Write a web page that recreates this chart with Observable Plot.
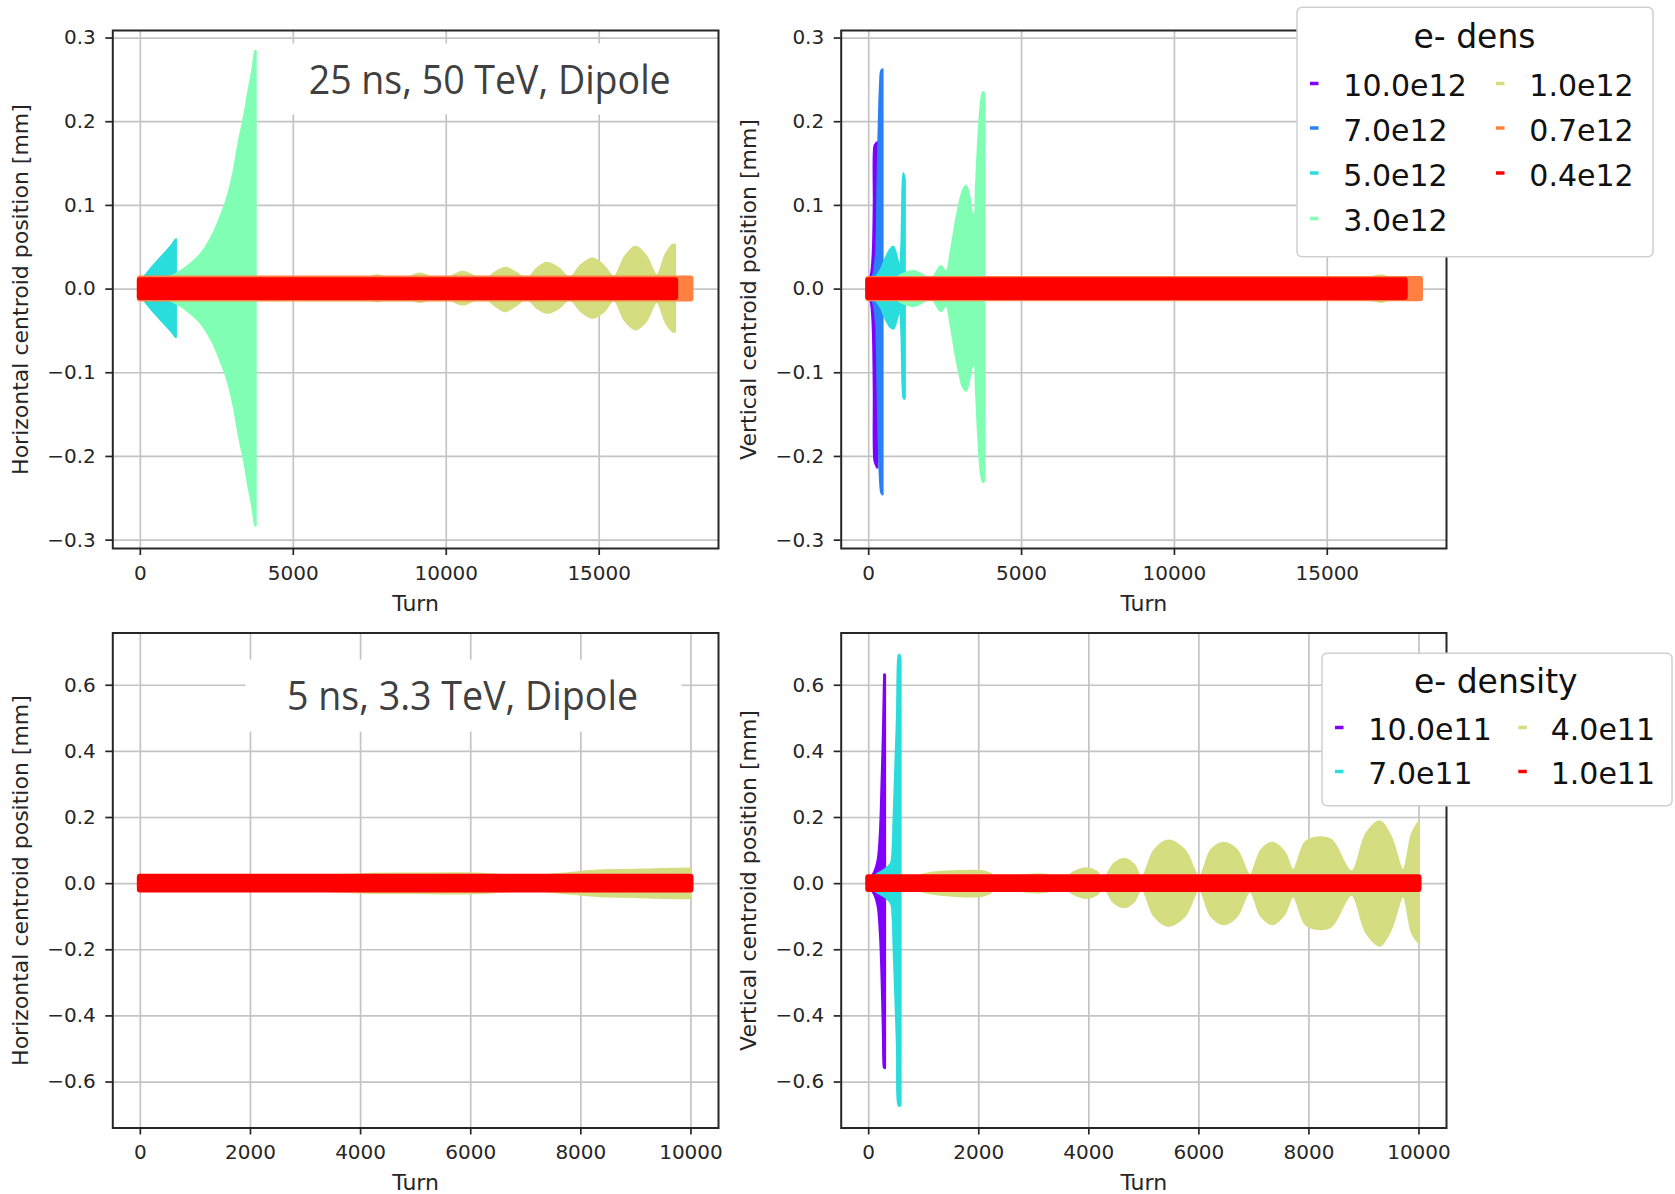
<!DOCTYPE html>
<html><head><meta charset="utf-8">
<script src="https://cdn.jsdelivr.net/npm/d3@7"></script>
<script src="https://cdn.jsdelivr.net/npm/@observablehq/plot@0.6"></script>
<style>
html,body{margin:0;padding:0;background:#fff;}
#page{position:relative;width:1675px;height:1194px;overflow:hidden;background:#fff;font-family:"DejaVu Sans";}
.panel{position:absolute;}
.panel svg{background:transparent !important;display:block;overflow:visible;}
.panel svg g[aria-label*="axis"] path,.panel svg g[aria-label*="axis"] line{stroke-width:1.7px;}
#overlay{position:absolute;left:0;top:0;pointer-events:none;}
</style></head>
<body><div id="page"></div>
<script>
// ---------- legend / categories ----------
const namesTop = ["10.0e12","7.0e12","5.0e12","3.0e12","1.0e12","0.7e12","0.4e12"];
const colorsTop = ["#8000ff","#2a80f6","#2adddd","#80ffb4","#d4dd80","#ff8042","#ff0000"];
const namesBot = ["10.0e11","7.0e11","4.0e11","1.0e11"];
const colorsBot = ["#8000ff","#2adddd","#d4dd80","#ff0000"];
const xTicksTop = [0,5000,10000,15000];
const xTicksBot = [0,2000,4000,6000,8000,10000];
const yTicksTop = [-0.3,-0.2,-0.1,0,0.1,0.2,0.3];
const yTicksBot = [-0.6,-0.4,-0.2,0,0.2,0.4,0.6];
const titleTop = "25 ns, 50 TeV, Dipole";
const titleBot = "5 ns, 3.3 TeV, Dipole";

// ---------- Panel A: horizontal, 25 ns (envelopes: turn, upper, lower) ----------
const A_turn_10 = [0,100,200,280];
const A_hi_10 = [0.004,0.006,0.007,0.007];
const A_lo_10 = [-0.004,-0.006,-0.007,-0.007];
const A_turn_7 = [0,200,400,440];
const A_hi_7 = [0.004,0.006,0.008,0.008];
const A_lo_7 = [-0.004,-0.006,-0.008,-0.008];
const A_turn_5 = [0,200,400,600,800,1000,1150,1180];
const A_hi_5 = [0.008,0.017,0.026,0.034,0.042,0.05,0.058,0.059];
const A_lo_5 = [-0.008,-0.017,-0.026,-0.034,-0.042,-0.05,-0.057,-0.058];
const A_turn_3 = [0,400,800,1200,1600,2000,2400,2650,2850,3050,3230,3400,3550,3680,3770,3790];
const A_hi_3 = [0.005,0.008,0.012,0.018,0.028,0.042,0.066,0.088,0.108,0.138,0.175,0.205,0.237,0.262,0.284,0.284];
const A_lo_3 = [-0.005,-0.008,-0.012,-0.018,-0.028,-0.042,-0.066,-0.088,-0.108,-0.138,-0.175,-0.205,-0.237,-0.262,-0.283,-0.283];
const A_turn_1 = [0,2000,4300,4950,5650,6350,7050,7750,8450,9150,9850,10550,11250,11600,11950,12300,12650,12980,13300,13670,14050,14420,14800,15150,15500,15850,16200,16550,16900,17200,17450,17500];
const A_hi_1 = [0.003,0.005,0.005,0.012,0.006,0.014,0.007,0.016,0.008,0.018,0.009,0.02,0.01,0.019,0.025,0.019,0.012,0.024,0.031,0.025,0.013,0.028,0.036,0.028,0.014,0.038,0.05,0.039,0.016,0.042,0.053,0.052];
const A_lo_1 = [-0.003,-0.005,-0.005,-0.011,-0.006,-0.013,-0.007,-0.015,-0.008,-0.016,-0.009,-0.019,-0.01,-0.02,-0.027,-0.02,-0.012,-0.023,-0.029,-0.024,-0.013,-0.027,-0.035,-0.028,-0.014,-0.038,-0.049,-0.039,-0.016,-0.041,-0.052,-0.051];
const A_turn_07 = [0,9000,18000];
const A_hi_07 = [0.012,0.012,0.012];
const A_lo_07 = [-0.012,-0.012,-0.012];
const A_turn_04 = [0,9000,17500];
const A_hi_04 = [0.01,0.01,0.01];
const A_lo_04 = [-0.01,-0.01,-0.01];

// ---------- Panel B: vertical, 25 ns ----------
const B_turn_10 = [0,100,150,180,200,240,290,300];
const B_hi_10 = [0.004,0.02,0.045,0.1,0.17,0.173,0.175,0.175];
const B_lo_10 = [-0.004,-0.02,-0.05,-0.12,-0.205,-0.21,-0.214,-0.214];
const B_turn_7 = [0,150,250,300,330,380,420,460,470];
const B_hi_7 = [0.004,0.015,0.04,0.12,0.175,0.24,0.26,0.262,0.262];
const B_lo_7 = [-0.004,-0.015,-0.04,-0.11,-0.17,-0.225,-0.243,-0.246,-0.246];
const B_turn_5 = [0,200,400,550,700,820,950,1030,1080,1120,1150,1180,1200];
const B_hi_5 = [0.004,0.012,0.022,0.035,0.046,0.05,0.036,0.025,0.05,0.12,0.138,0.133,0.13];
const B_lo_5 = [-0.004,-0.012,-0.022,-0.035,-0.045,-0.048,-0.035,-0.025,-0.05,-0.115,-0.13,-0.132,-0.13];
const B_turn_3 = [400,800,1100,1500,1800,2050,2200,2380,2550,2700,2850,3000,3100,3200,3300,3400,3470,3520,3600,3680,3750,3800];
const B_hi_3 = [0.004,0.01,0.017,0.021,0.016,0.01,0.018,0.027,0.02,0.045,0.078,0.105,0.118,0.123,0.112,0.09,0.087,0.12,0.18,0.22,0.235,0.233];
const B_lo_3 = [-0.004,-0.01,-0.017,-0.021,-0.016,-0.01,-0.018,-0.027,-0.02,-0.045,-0.078,-0.105,-0.118,-0.122,-0.11,-0.093,-0.09,-0.12,-0.18,-0.22,-0.231,-0.23];
const B_turn_1 = [0,4000,8000,11500,12000,14000,16000,16500,16800,17100,17500];
const B_hi_1 = [0.004,0.008,0.009,0.013,0.009,0.01,0.011,0.014,0.016,0.012,0.014];
const B_lo_1 = [-0.004,-0.008,-0.009,-0.013,-0.009,-0.01,-0.011,-0.014,-0.016,-0.012,-0.014];
const B_turn_07 = [0,9000,18050];
const B_hi_07 = [0.0115,0.0115,0.0115];
const B_lo_07 = [-0.0115,-0.0115,-0.0115];
const B_turn_04 = [0,9000,17550];
const B_hi_04 = [0.01,0.01,0.01];
const B_lo_04 = [-0.01,-0.01,-0.01];

// ---------- Panel C: horizontal, 5 ns ----------
const C_turn_10 = [0,150,300];
const C_hi_10 = [0.01,0.01,0.01];
const C_lo_10 = [-0.01,-0.01,-0.01];
const C_turn_7 = [0,300,570];
const C_hi_7 = [0.012,0.012,0.012];
const C_lo_7 = [-0.012,-0.012,-0.012];
const C_turn_4 = [0,1000,2100,3300,4100,5000,5800,6400,7050,7500,7900,8300,8700,9100,9500,10000];
const C_hi_4 = [0.005,0.012,0.019,0.022,0.028,0.029,0.03,0.027,0.02,0.026,0.032,0.038,0.04,0.041,0.043,0.044];
const C_lo_4 = [-0.005,-0.012,-0.019,-0.023,-0.029,-0.03,-0.031,-0.028,-0.021,-0.027,-0.033,-0.039,-0.041,-0.043,-0.045,-0.046];
const C_turn_1 = [0,5000,10000];
const C_hi_1 = [0.019,0.019,0.019];
const C_lo_1 = [-0.019,-0.019,-0.019];

// ---------- Panel D: vertical, 5 ns ----------
const D_turn_10 = [0,120,180,220,250,275,290,298];
const D_hi_10 = [0.005,0.035,0.07,0.15,0.3,0.45,0.58,0.63];
const D_lo_10 = [-0.005,-0.035,-0.07,-0.15,-0.28,-0.45,-0.555,-0.558];
const D_turn_7 = [0,150,300,420,450,470,500,530,560,580];
const D_hi_7 = [0.005,0.025,0.04,0.06,0.1,0.2,0.35,0.5,0.69,0.68];
const D_lo_7 = [-0.005,-0.025,-0.04,-0.06,-0.1,-0.2,-0.34,-0.49,-0.672,-0.67];
const D_turn_4 = [0,500,851,1100,1540,2080,2253,2287,2600,3108,3400,3519,3750,3963,4150,4270,4460,4646,4820,4968,5200,5447,5750,6014,6230,6458,6700,6937,7140,7347,7560,7723,7950,8202,8420,8784,9050,9297,9500,9720,9880,10000];
const D_hi_4 = [0.004,0.01,0.02,0.03,0.036,0.036,0.025,0.012,0.02,0.027,0.02,0.01,0.035,0.045,0.035,0.012,0.058,0.073,0.058,0.018,0.1,0.129,0.1,0.02,0.1,0.122,0.1,0.025,0.1,0.122,0.095,0.04,0.125,0.139,0.13,0.035,0.15,0.187,0.14,0.04,0.15,0.185];
const D_lo_4 = [-0.004,-0.01,-0.02,-0.03,-0.038,-0.038,-0.025,-0.012,-0.02,-0.028,-0.02,-0.01,-0.035,-0.045,-0.035,-0.012,-0.058,-0.073,-0.058,-0.018,-0.1,-0.129,-0.1,-0.02,-0.1,-0.124,-0.1,-0.025,-0.1,-0.124,-0.095,-0.04,-0.125,-0.139,-0.13,-0.035,-0.15,-0.189,-0.14,-0.04,-0.15,-0.18];
const D_turn_1 = [0,5000,10000];
const D_hi_1 = [0.018,0.018,0.018];
const D_lo_1 = [-0.018,-0.018,-0.018];

// ---------- build ----------
function table(turn, hi, lo) { return turn.map((t, i) => ({turn: t, hi: hi[i], lo: lo[i]})); }

const panels = [
  {left: 0, top: 0, width: 728, height: 620, mt: 30, mb: 72, ml: 112.3, mr: 10,
   xDomain: [-900, 18900], yDomain: [-0.31, 0.309], xTicks: xTicksTop, yTicks: yTicksTop,
   ylabel: "Horizontal centroid position [mm]",
   series: [
     [colorsTop[0], table(A_turn_10, A_hi_10, A_lo_10), 2],
     [colorsTop[1], table(A_turn_7, A_hi_7, A_lo_7), 2],
     [colorsTop[2], table(A_turn_5, A_hi_5, A_lo_5), 2],
     [colorsTop[3], table(A_turn_3, A_hi_3, A_lo_3), 2],
     [colorsTop[4], table(A_turn_1, A_hi_1, A_lo_1), 2],
     [colorsTop[5], table(A_turn_07, A_hi_07, A_lo_07), 6],
     [colorsTop[6], table(A_turn_04, A_hi_04, A_lo_04), 6]
   ]},
  {left: 728, top: 0, width: 728, height: 620, mt: 30, mb: 72, ml: 112.7, mr: 10,
   xDomain: [-900, 18900], yDomain: [-0.31, 0.309], xTicks: xTicksTop, yTicks: yTicksTop,
   ylabel: "Vertical centroid position [mm]",
   series: [
     [colorsTop[0], table(B_turn_10, B_hi_10, B_lo_10), 2],
     [colorsTop[1], table(B_turn_7, B_hi_7, B_lo_7), 2],
     [colorsTop[2], table(B_turn_5, B_hi_5, B_lo_5), 2],
     [colorsTop[3], table(B_turn_3, B_hi_3, B_lo_3), 2],
     [colorsTop[4], table(B_turn_1, B_hi_1, B_lo_1), 2],
     [colorsTop[5], table(B_turn_07, B_hi_07, B_lo_07), 6],
     [colorsTop[6], table(B_turn_04, B_hi_04, B_lo_04), 6]
   ]},
  {left: 0, top: 620, width: 728, height: 574, mt: 12.5, mb: 66.5, ml: 112.3, mr: 10,
   xDomain: [-500, 10500], yDomain: [-0.739, 0.758], xTicks: xTicksBot, yTicks: yTicksBot,
   ylabel: "Horizontal centroid position [mm]",
   series: [
     [colorsBot[0], table(C_turn_10, C_hi_10, C_lo_10), 2],
     [colorsBot[1], table(C_turn_7, C_hi_7, C_lo_7), 2],
     [colorsBot[2], table(C_turn_4, C_hi_4, C_lo_4), 2],
     [colorsBot[3], table(C_turn_1, C_hi_1, C_lo_1), 6]
   ]},
  {left: 728, top: 620, width: 728, height: 574, mt: 12.5, mb: 66.5, ml: 112.7, mr: 10,
   xDomain: [-500, 10500], yDomain: [-0.739, 0.758], xTicks: xTicksBot, yTicks: yTicksBot,
   ylabel: "Vertical centroid position [mm]",
   series: [
     [colorsBot[0], table(D_turn_10, D_hi_10, D_lo_10), 3],
     [colorsBot[1], table(D_turn_7, D_hi_7, D_lo_7), 3],
     [colorsBot[2], table(D_turn_4, D_hi_4, D_lo_4), 2],
     [colorsBot[3], table(D_turn_1, D_hi_1, D_lo_1), 6]
   ]}
];

const page = document.getElementById("page");
const gridColor = "#c4c4c4";

for (const p of panels) {
  const marks = [
    Plot.ruleX(p.xTicks, {stroke: gridColor, strokeWidth: 1.7}),
    Plot.ruleY(p.yTicks, {stroke: gridColor, strokeWidth: 1.7})
  ];
  for (const [color, data, sw] of p.series) {
    marks.push(Plot.areaY(data, {x: "turn", y1: "lo", y2: "hi", fill: color, stroke: color,
      strokeWidth: sw, strokeLinejoin: "round", curve: "catmull-rom"}));
  }
  marks.push(Plot.frame({stroke: "#262626", strokeWidth: 2}));
  marks.push(Plot.text(["Turn"], {text: d => d, frameAnchor: "bottom", dy: 55, fontSize: 22,
    textAnchor: "middle", lineAnchor: "middle", fill: "#262626"}));
  marks.push(Plot.text([p.ylabel], {text: d => d, frameAnchor: "left", dx: -92, rotate: -90, fontSize: 22,
    textAnchor: "middle", lineAnchor: "middle", fill: "#262626"}));
  const chart = Plot.plot({
    width: p.width, height: p.height,
    marginLeft: p.ml, marginRight: p.mr, marginTop: p.mt, marginBottom: p.mb,
    x: {domain: p.xDomain, ticks: p.xTicks, tickFormat: "d", tickSize: 7, tickPadding: 10, label: null},
    y: {domain: p.yDomain, ticks: p.yTicks, tickFormat: ".1f", tickSize: 7, tickPadding: 10, label: null},
    style: {fontFamily: "DejaVu Sans", fontSize: "20px", color: "#262626", background: "transparent"},
    marks
  });
  const div = document.createElement("div");
  div.className = "panel";
  div.style.left = p.left + "px";
  div.style.top = p.top + "px";
  div.appendChild(chart);
  page.appendChild(div);
}

// ---------- overlay: annotation boxes and legends ----------
const svg = d3.create("svg").attr("id", "overlay").attr("width", 1675).attr("height", 1194);

function annotation(x, y, w, h, tx, ty, tlen, label) {
  svg.append("rect").attr("x", x).attr("y", y).attr("width", w).attr("height", h).attr("fill", "#fff");
  svg.append("text").attr("x", tx).attr("y", ty).attr("font-family", "Open Sans").attr("font-size", 40)
    .attr("fill", "#404040").attr("textLength", tlen).attr("lengthAdjust", "spacingAndGlyphs").text(label);
}
annotation(266, 43.5, 448, 71, 308.7, 93.5, 362, titleTop);
annotation(245.6, 659.6, 436, 72, 287, 709.5, 351, titleBot);

function legend(box, title, titleX, titleY, names, colors, rows, cols) {
  svg.append("rect").attr("x", box[0]).attr("y", box[1]).attr("width", box[2]).attr("height", box[3])
    .attr("rx", 5).attr("fill", "#fff").attr("stroke", "#cfcfcf").attr("stroke-width", 1.5);
  svg.append("text").attr("x", titleX).attr("y", titleY).attr("text-anchor", "middle")
    .attr("font-family", "DejaVu Sans").attr("font-size", 33).attr("fill", "#111").text(title);
  const perCol = rows.length;
  names.forEach((n, i) => {
    const c = cols[Math.floor(i / perCol)], yb = rows[i % perCol];
    svg.append("line").attr("x1", c[0]).attr("x2", c[1]).attr("y1", yb - 12.5).attr("y2", yb - 12.5)
      .attr("stroke", colors[i]).attr("stroke-width", 3.5);
    svg.append("text").attr("x", c[2]).attr("y", yb).attr("font-family", "DejaVu Sans")
      .attr("font-size", 30).attr("fill", "#111").text(n);
  });
}
legend([1297, 7.3, 356, 249.4], "e- dens", 1474.5, 48.3, namesTop, colorsTop,
  [96, 140.5, 185.5, 231], [[1310, 1318.5, 1343.3], [1496, 1504.5, 1529.3]]);
legend([1322, 653.3, 350, 152.4], "e- density", 1495.8, 693.3, namesBot, colorsBot,
  [740, 784], [[1335, 1343.5, 1368.3], [1518.3, 1526.8, 1550.7]]);

page.appendChild(svg.node());
</script>
</body></html>
